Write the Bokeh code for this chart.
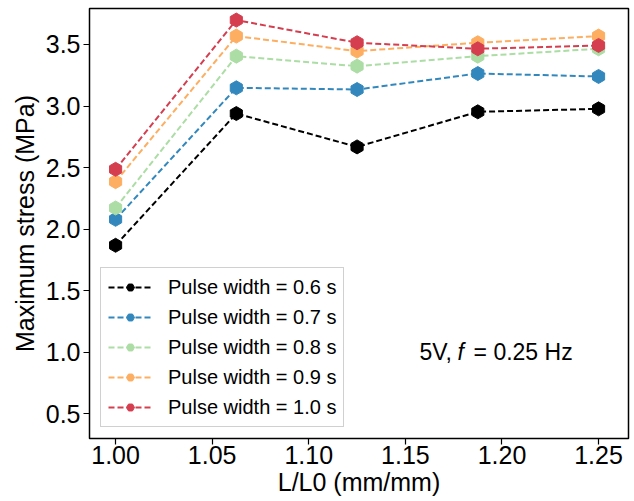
from bokeh.plotting import figure
from bokeh.models import FixedTicker, Label, Legend, LegendItem, NumeralTickFormatter
from bokeh.embed import file_html
from bokeh.resources import INLINE

x_vals = [1.0, 1.0625, 1.125, 1.1875, 1.25]
pw_06 = [1.869, 2.939, 2.668, 2.953, 2.977]
pw_07 = [2.080, 3.148, 3.134, 3.264, 3.240]
pw_08 = [2.172, 3.405, 3.324, 3.405, 3.465]
pw_09 = [2.386, 3.568, 3.446, 3.514, 3.568]
pw_10 = [2.486, 3.698, 3.514, 3.465, 3.492]
series_labels = ["Pulse width = 0.6 s", "Pulse width = 0.7 s", "Pulse width = 0.8 s",
                 "Pulse width = 0.9 s", "Pulse width = 1.0 s"]
colors = ["#000000", "#3288bd", "#abdda4", "#fdae61", "#d53e4f"]
y_ticks = [0.5, 1.0, 1.5, 2.0, 2.5, 3.0, 3.5]
x_ticks = [1.00, 1.05, 1.10, 1.15, 1.20, 1.25]

FONT = "Liberation Sans"

p = figure(width=634, height=501, output_backend="svg", toolbar_location=None,
           x_range=(0.9865, 1.2655), y_range=(0.300, 3.792))
p.min_border_left = 89
p.min_border_right = 6
p.min_border_top = 8
p.min_border_bottom = 63
p.xgrid.visible = False
p.ygrid.visible = False
p.outline_line_color = "black"
p.outline_line_width = 1.5
p.outline_line_alpha = 1.0

for ax in (p.xaxis[0], p.yaxis[0]):
    ax.axis_line_color = None
    ax.major_tick_line_color = "black"
    ax.major_tick_line_width = 1.2
    ax.major_tick_out = 6
    ax.major_tick_in = 0
    ax.minor_tick_line_color = None
    ax.major_label_text_font = FONT
    ax.major_label_text_font_size = "25px"
    ax.major_label_text_color = "black"
    ax.axis_label_text_font = FONT
    ax.axis_label_text_font_size = "25px"
    ax.axis_label_text_font_style = "normal"
    ax.axis_label_text_color = "black"

p.xaxis.ticker = FixedTicker(ticks=x_ticks)
p.xaxis.formatter = NumeralTickFormatter(format="0.00")
p.yaxis.ticker = FixedTicker(ticks=y_ticks)
p.yaxis.formatter = NumeralTickFormatter(format="0.0")
p.xaxis.axis_label = "L/L0 (mm/mm)"
p.yaxis.axis_label = "Maximum stress (MPa)"
p.xaxis.major_label_standoff = 1
p.yaxis.major_label_standoff = 3
p.xaxis.axis_label_standoff = 1
p.yaxis.axis_label_standoff = 4

items = []
for ys, lab, c in zip([pw_06, pw_07, pw_08, pw_09, pw_10], series_labels, colors):
    l = p.line(x_vals, ys, line_color=c, line_width=2, line_dash="6 3")
    s = p.scatter(x_vals, ys, marker="hex", size=14, fill_color=c, line_color=c, angle=0.5236)
    items.append(LegendItem(label=lab, renderers=[l, s]))

legend = Legend(items=items, location=(11, 11))
legend.label_text_font = FONT
legend.label_text_font_size = "20px"
legend.label_text_color = "black"
legend.glyph_width = 44
legend.glyph_height = 20
legend.label_height = 24
legend.spacing = 6
legend.padding = 7
legend.margin = 0
legend.label_standoff = 16
legend.border_line_color = "#d0d0d0"
legend.border_line_width = 1
legend.border_line_alpha = 1.0
legend.background_fill_alpha = 0.8
p.add_layout(legend, "center")

common = dict(y=1.0, text_font=FONT, text_font_size="23px", text_baseline="middle",
              text_color="black")
p.add_layout(Label(x=1.1573, text="5V,", **common))
p.add_layout(Label(x=1.1770, text="f", text_font_style="italic", **common))
p.add_layout(Label(x=1.1853, text="= 0.25 Hz", **common))

open("out.html", "w").write(file_html(p, INLINE))
